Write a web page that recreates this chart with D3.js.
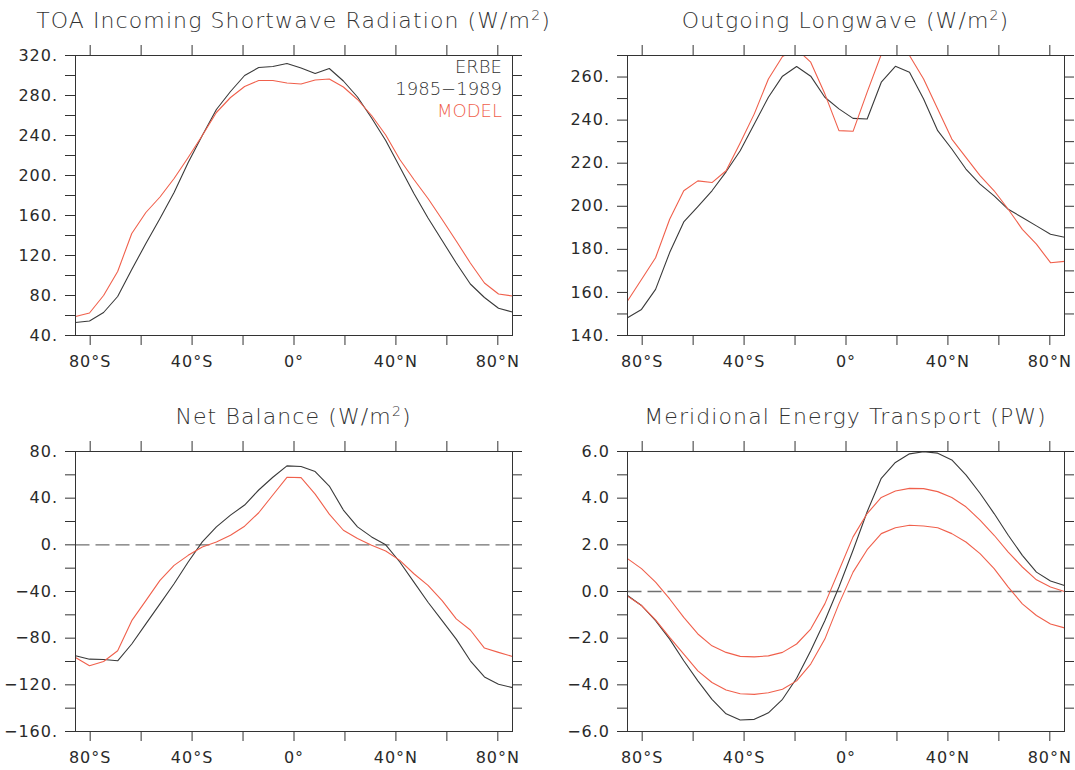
<!DOCTYPE html>
<html>
<head>
<meta charset="utf-8">
<script src="https://cdn.jsdelivr.net/npm/d3@7"></script>
<style>
  body { margin: 0; background: #ffffff; }
  svg { display: block; }
</style>
</head>
<body>
<svg id="chart" width="1075" height="770"></svg>
<script>
// Gaussian latitudes of a 32-row (T21) grid, south to north, in degrees
const lats = [-85.761, -80.269, -74.745, -69.213, -63.679, -58.143, -52.607, -47.070,
  -41.534, -35.997, -30.460, -24.923, -19.386, -13.849, -8.307, -2.769,
  2.769, 8.307, 13.849, 19.386, 24.923, 30.460, 35.997, 41.534,
  47.070, 52.607, 58.143, 63.679, 69.213, 74.745, 80.269, 85.761];

// TOA shortwave (W/m2)
const swErbe  = [53, 54.5, 63, 79, 106, 132, 157, 183, 213, 240, 266, 284, 300, 308, 309, 312,
  307.5, 302, 307, 294.5, 278.5, 257.5, 235, 208.5, 182, 157.5, 135, 112.5, 91.5, 78, 67.2, 63.5];
const swModel = [59, 62.5, 80, 104, 142, 163, 178.5, 197, 218, 240, 263, 278, 289, 295, 295, 292.5,
  291.5, 295.5, 296.5, 288.5, 276, 260, 240.5, 216, 196, 177, 156, 134.5, 112.5, 92.5, 81.5, 79.5];

// Outgoing longwave (W/m2)
const olrErbe  = [148.2, 152.1, 161.4, 178.5, 192.7, 199.8, 207.2, 216, 225.8, 238.2, 250.6, 260.4, 264.9, 260.4, 250.6, 245.2,
  240.8, 240.5, 257.6, 265, 262.2, 249.8, 235.1, 226.6, 217.3, 210.3, 204.8, 198.6, 194.8, 190.9, 187, 185.6];
const olrModel = [156, 166, 176.1, 194, 207.2, 211.8, 211, 216.5, 229.4, 242.9, 259.1, 269.5, 273, 266.9, 252.2, 235.1,
  234.8, 253, 270.5, 276, 270, 259.1, 245.2, 231.2, 222.7, 214.2, 207.2, 198.6, 189.3, 182.4, 173.8, 174.4];

// Net radiative balance (W/m2)
const netErbe  = [-95.1, -98, -98.3, -99.4, -85, -67.8, -50.6, -33.4, -14.7, 2.5, 15.4, 25.5, 34.1, 47, 57.9, 67.7,
  67.1, 62.8, 50.4, 29.8, 15.4, 6.8, 0, -14.7, -32, -49.2, -65, -80.8, -99.4, -113.2, -119.5, -122.4];
const netModel = [-96.6, -103.7, -100, -90.8, -65, -47.8, -30.5, -17.6, -9, -1.8, 2.5, 8.2, 16, 27.5, 42.7, 57.9,
  57.6, 43.5, 26.3, 12.5, 5.4, -0.4, -5.3, -13.3, -24.8, -34.8, -47.8, -63.5, -73, -88.5, -92.2, -95.7];

// Northward energy transport (PW)
const mhtErbe   = [-0.17, -0.6, -1.25, -2.04, -2.97, -3.83, -4.62, -5.24, -5.51, -5.48, -5.2, -4.62, -3.72, -2.54, -1.25, 0.19,
  1.77, 3.42, 4.85, 5.53, 5.9, 5.99, 5.93, 5.64, 5.0, 4.21, 3.34, 2.41, 1.55, 0.83, 0.45, 0.26];
const mhtModelA = [1.41, 0.98, 0.4, -0.32, -1.11, -1.82, -2.33, -2.61, -2.78, -2.8, -2.76, -2.61, -2.25, -1.61, -0.53, 0.9,
  2.34, 3.34, 4.03, 4.31, 4.42, 4.41, 4.28, 4.03, 3.63, 3.06, 2.41, 1.69, 1.05, 0.5, 0.19, 0.0];
const mhtModelB = [-0.2, -0.6, -1.22, -1.97, -2.68, -3.4, -3.9, -4.22, -4.38, -4.41, -4.34, -4.19, -3.83, -3.11, -2.04, -0.53,
  0.83, 1.79, 2.48, 2.73, 2.84, 2.81, 2.73, 2.48, 2.12, 1.62, 0.98, 0.19, -0.53, -1.03, -1.39, -1.56];

// Axis ticks and labels
const latTicks  = [-80, -60, -40, -20, 0, 20, 40, 60, 80];
const latLabels = ["80°S", "", "40°S", "", "0°", "", "40°N", "", "80°N"];
const swTicks  = [40, 80, 120, 160, 200, 240, 280, 320];
const olrTicks = [140, 160, 180, 200, 220, 240, 260];
const netTicks = [-160, -120, -80, -40, 0, 40, 80];
const mhtTicks = [-6, -4, -2, 0, 2, 4, 6];
const legendLines = ["ERBE", "1985\u22121989", "MODEL"];

const ERBE_COLOR = "#3a3a3a";
const MODEL_COLOR = "#f0604c";
const FONT = "'DejaVu Sans', sans-serif";

const W = 437, H = 280;
const svg = d3.select("#chart");
const x = d3.scaleLinear().domain([lats[0], lats[lats.length - 1]]).range([0, W]);

const minus = s => s.replace("-", "\u2212");
const fmtDot = d => minus(String(d)) + ".";
const fmtOne = d => minus(d.toFixed(1));

const panels = [
  { id: "sw", left: 75, top: 55, title: "TOA Incoming Shortwave Radiation (W/m", sup: "2", tail: ")",
    domain: [40, 320], minorStep: 20, major: swTicks, fmt: fmtDot, zero: false, legend: true,
    series: [{ v: swErbe, c: ERBE_COLOR }, { v: swModel, c: MODEL_COLOR }] },
  { id: "olr", left: 627, top: 55, title: "Outgoing Longwave (W/m", sup: "2", tail: ")",
    domain: [140, 270], minorStep: 10, major: olrTicks, fmt: fmtDot, zero: false,
    series: [{ v: olrErbe, c: ERBE_COLOR }, { v: olrModel, c: MODEL_COLOR }] },
  { id: "net", left: 75, top: 451, title: "Net Balance (W/m", sup: "2", tail: ")",
    domain: [-160, 80], minorStep: 20, major: netTicks, fmt: fmtDot, zero: true,
    series: [{ v: netErbe, c: ERBE_COLOR }, { v: netModel, c: MODEL_COLOR }] },
  { id: "mht", left: 627, top: 451, title: "Meridional Energy Transport (PW)", sup: "", tail: "",
    domain: [-6, 6], minorStep: 1, major: mhtTicks, fmt: fmtOne, zero: true,
    series: [{ v: mhtErbe, c: ERBE_COLOR }, { v: mhtModelA, c: MODEL_COLOR }, { v: mhtModelB, c: MODEL_COLOR }] }
];

function styleAxis(g) {
  g.attr("font-family", FONT).attr("font-size", 16).attr("color", "#333");
  g.select(".domain").remove();
  g.selectAll("text").attr("fill", "#2a2a2a").attr("letter-spacing", 1);
}

panels.forEach(p => {
  const g = svg.append("g").attr("transform", `translate(${p.left},${p.top})`);
  const y = d3.scaleLinear().domain(p.domain).range([H, 0]);
  const yTicks = d3.range(p.domain[0], p.domain[1] + p.minorStep / 2, p.minorStep);
  const isMajor = d => p.major.some(m => Math.abs(m - d) < 1e-9);

  // title
  const t = g.append("text")
    .attr("x", W / 2).attr("y", -27)
    .attr("text-anchor", "middle")
    .attr("font-family", FONT).attr("font-size", 22).attr("font-weight", 300)
    .attr("letter-spacing", 1.1).attr("fill", "#333")
    .text(p.title);
  if (p.sup) {
    t.append("tspan").attr("font-size", 14).attr("dy", -8.5).text(p.sup);
    t.append("tspan").attr("dy", 8.5).text(p.tail);
  }

  // curves, clipped to the plot frame
  g.append("clipPath").attr("id", "clip-" + p.id)
    .append("rect").attr("x", 0.5).attr("y", 0.5).attr("width", W).attr("height", H);
  const plot = g.append("g").attr("clip-path", `url(#clip-${p.id})`);

  if (p.zero) {
    plot.append("line")
      .attr("x1", 0.5).attr("x2", W + 0.5)
      .attr("y1", y(0) + 0.5).attr("y2", y(0) + 0.5)
      .attr("stroke", "#707070").attr("stroke-width", 1.4)
      .attr("stroke-dasharray", "14,6");
  }

  const line = d3.line().x((d, i) => x(lats[i]) + 0.5).y(d => y(d) + 0.5);
  plot.selectAll("path.curve").data(p.series).join("path")
    .attr("class", "curve")
    .attr("d", s => line(s.v))
    .attr("fill", "none")
    .attr("stroke", s => s.c)
    .attr("stroke-width", 1.1)
    .attr("stroke-linejoin", "round");

  // axes
  g.append("g")
    .call(d3.axisLeft(y).tickValues(yTicks).tickSize(10).tickPadding(7)
      .tickFormat(d => isMajor(d) ? p.fmt(d) : ""))
    .call(styleAxis);
  g.append("g").attr("transform", `translate(${W},0)`)
    .call(d3.axisRight(y).tickValues(yTicks.slice(1)).tickSize(10).tickFormat(""))
    .call(styleAxis);
  g.append("g")
    .call(d3.axisTop(x).tickValues(latTicks).tickSize(10).tickFormat(""))
    .call(styleAxis);
  g.append("g").attr("transform", `translate(0,${H})`)
    .call(d3.axisBottom(x).tickValues(latTicks).tickSize(10).tickPadding(10.5)
      .tickFormat((d, i) => latLabels[i]))
    .call(styleAxis);

  // frame
  g.append("rect").attr("x", 0.5).attr("y", 0.5).attr("width", W).attr("height", H)
    .attr("fill", "none").attr("stroke", "#333").attr("stroke-width", 1);

  if (p.legend) {
    g.append("g").selectAll("text").data(legendLines).join("text")
      .attr("x", W - 10).attr("y", (d, i) => 18 + i * 22)
      .attr("text-anchor", "end")
      .attr("font-family", FONT).attr("font-size", 18).attr("font-weight", 300)
      .attr("fill", (d, i) => i === 2 ? MODEL_COLOR : "#333")
      .text(d => d);
  }
});
</script>
</body>
</html>
